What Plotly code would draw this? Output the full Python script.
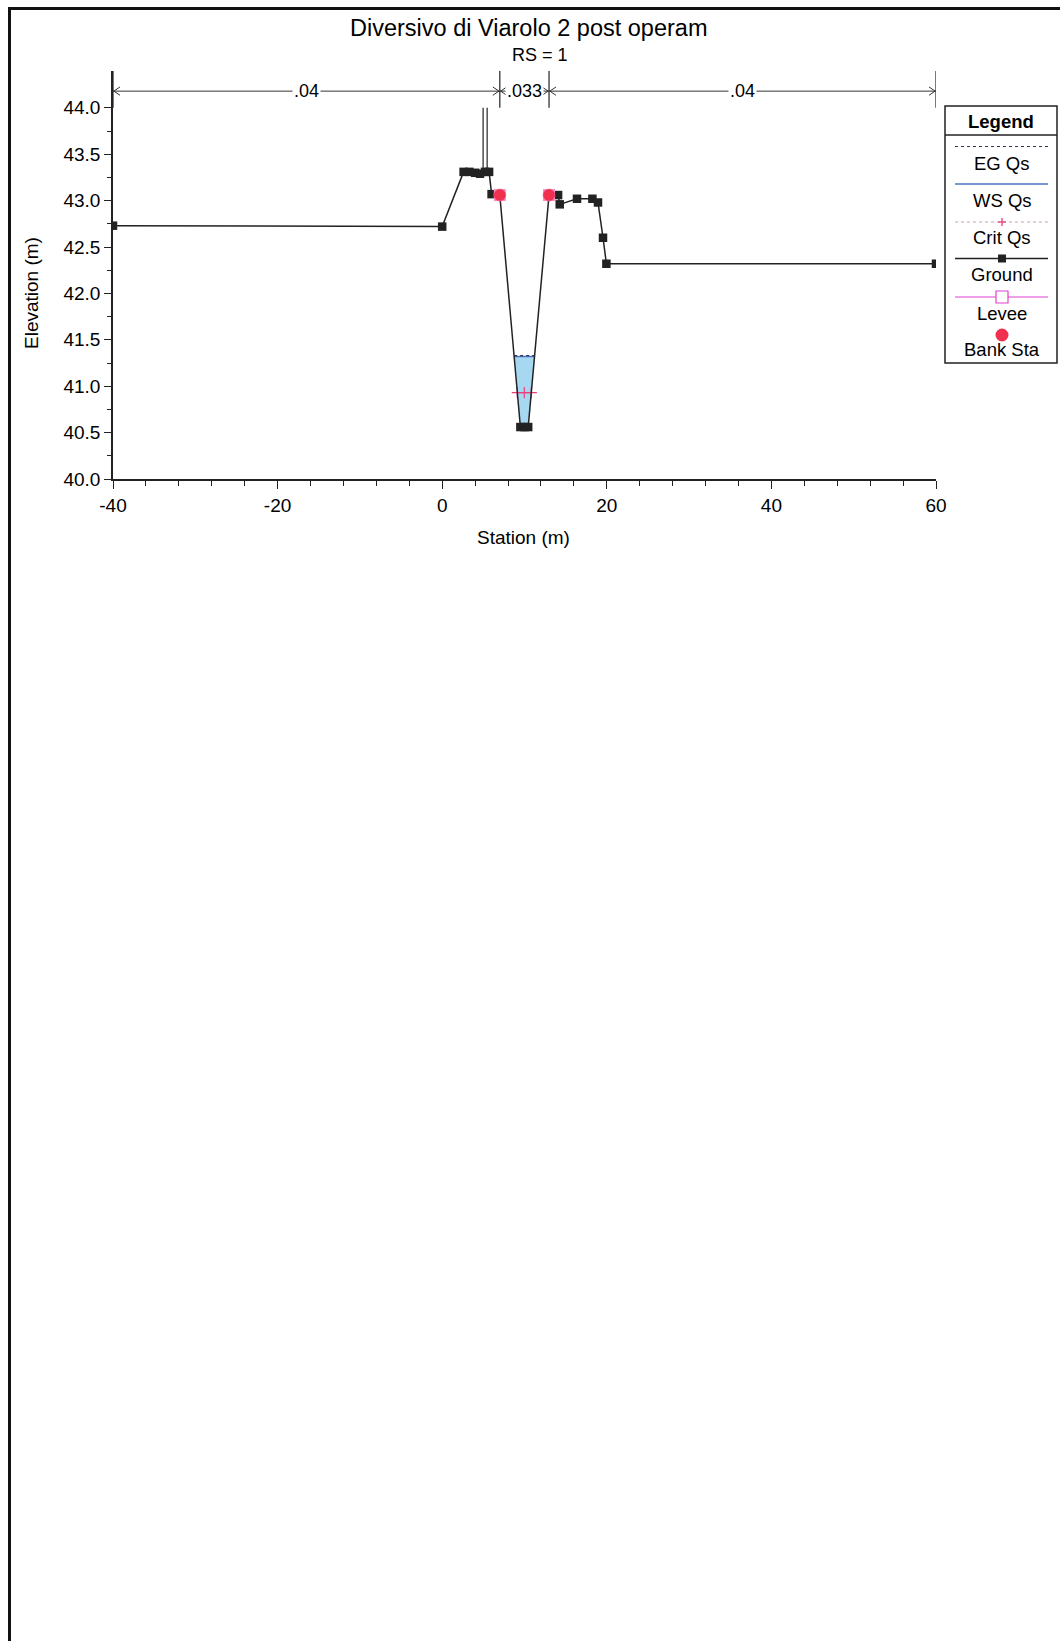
import numpy as np
import plotly.graph_objects as go

# ---------------- data ----------------
title_text = "Diversivo di Viarolo 2 post operam"
subtitle_text = "RS = 1"
x_title = "Station (m)"
y_title = "Elevation (m)"

ground_station = [-40.0, 0.0, 2.6, 3.3, 4.0, 4.6, 5.2, 5.7, 6.0, 7.0, 9.5, 10.0, 10.45,
                  12.98, 14.08, 14.28, 16.38, 18.25, 18.93, 19.54, 19.95, 60.0]
ground_elev = [42.73, 42.72, 43.31, 43.31, 43.30, 43.29, 43.31, 43.31, 43.07, 43.06, 40.56, 40.56, 40.56,
               43.06, 43.06, 42.96, 43.02, 43.02, 42.98, 42.60, 42.32, 42.32]
bank_station = [7.0, 12.98]
bank_elev = [43.06, 43.06]
ws_elev = 41.32
eg_elev = 41.33
crit_elev = 40.93
levee_station = [4.97, 5.46]
levee_top = 44.0

n_bounds = [-40.0, 7.0, 12.98, 60.0]
n_labels = [".04", ".033", ".04"]
n_label_station = [-16.5, 9.99, 36.5]
dim_elev = 44.18

x_range = [-40, 60]
y_range = [40.0, 44.397]
x_tickvals = [-40, -20, 0, 20, 40, 60]
x_ticktext = ["-40", "-20", "0", "20", "40", "60"]
y_tickvals = [40.0, 40.5, 41.0, 41.5, 42.0, 42.5, 43.0, 43.5, 44.0]
y_ticktext = ["40.0", "40.5", "41.0", "41.5", "42.0", "42.5", "43.0", "43.5", "44.0"]
y_minorvals = [40.25, 40.75, 41.25, 41.75, 42.25, 42.75, 43.25, 43.75]

legend_labels = ["EG Qs", "WS Qs", "Crit Qs", "Ground", "Levee", "Bank Sta"]

# ---------------- styles ----------------
FONT = "Liberation Sans, Arial, sans-serif"
C_GROUND = "#222222"
C_WS = "#4a74c0"
C_EG = "#333355"
C_CRIT = "#e8407a"
C_LEVEE = "#e040d0"
C_BANK = "#f0304f"
C_WATER = "#a6d8f2"

W_FIG, H_FIG = 1060, 1641
P_LEFT, P_TOP, PW, PH = 113, 71, 823, 408      # plot area in page pixels
P_BOTTOM = P_TOP + PH
ML = P_LEFT
MT = P_TOP
MR = W_FIG - ML - PW
MB = H_FIG - MT - PH


def xp(px):
    return (px - P_LEFT) / PW


def yp(py):
    return (P_BOTTOM - py) / PH


gx = np.array(ground_station)
gy = np.array(ground_elev)
i_left = int(np.where(np.isclose(gx, bank_station[0]))[0][0])
i_right = int(np.where(np.isclose(gx, bank_station[1]))[0][0])


def crossings(level):
    """Wetted polygon points within the main channel for a given level."""
    pts = []
    for i in range(i_left, i_right):
        x0, y0, x1, y1 = gx[i], gy[i], gx[i + 1], gy[i + 1]
        if y0 < level:
            pts.append((x0, y0))
        if (y0 - level) * (y1 - level) < 0:
            t = (level - y0) / (y1 - y0)
            pts.append((x0 + t * (x1 - x0), level))
    return pts


wet = crossings(ws_elev)
wet_x = [p[0] for p in wet] + [wet[0][0]]
wet_y = [p[1] for p in wet] + [wet[0][1]]
ws_left, ws_right = wet[0][0], wet[-1][0]

crit_pts = [p for p in crossings(crit_elev) if np.isclose(p[1], crit_elev)]
crit_left, crit_right = crit_pts[0][0], crit_pts[-1][0]

fig = go.Figure()

fig.add_trace(go.Scatter(x=wet_x, y=wet_y, fill="toself", fillcolor=C_WATER,
                         line=dict(width=0), mode="lines", hoverinfo="skip", showlegend=False))
fig.add_trace(go.Scatter(x=[crit_left, (crit_left + crit_right) / 2, crit_right],
                         y=[crit_elev] * 3, mode="lines+markers",
                         line=dict(color=C_CRIT, width=1, dash="dot"),
                         marker=dict(symbol="cross-thin", size=8, line=dict(color=C_CRIT, width=1.2)),
                         showlegend=False))
fig.add_trace(go.Scatter(x=[ws_left, ws_right], y=[ws_elev] * 2, mode="lines",
                         line=dict(color=C_WS, width=1.5), showlegend=False))
fig.add_trace(go.Scatter(x=[ws_left, ws_right], y=[eg_elev] * 2, mode="lines",
                         line=dict(color=C_EG, width=1.2, dash="dot"), showlegend=False))

lev_x, lev_y = [], []
for s in levee_station:
    lev_x += [s, s, None]
    lev_y += [float(np.interp(s, gx, gy)), levee_top, None]
fig.add_trace(go.Scatter(x=lev_x, y=lev_y, mode="lines", line=dict(color=C_GROUND, width=1.2),
                         showlegend=False))

fig.add_trace(go.Scatter(x=ground_station, y=ground_elev, mode="lines+markers",
                         line=dict(color=C_GROUND, width=1.5),
                         marker=dict(symbol="square", size=8.5, color=C_GROUND),
                         showlegend=False))
fig.add_trace(go.Scatter(x=bank_station, y=bank_elev, mode="markers",
                         marker=dict(symbol="square", size=12, color="#f490c8"),
                         showlegend=False))
fig.add_trace(go.Scatter(x=bank_station, y=bank_elev, mode="markers",
                         marker=dict(symbol="circle", size=12, color=C_BANK,
                                     line=dict(color="#f06090", width=0.5)),
                         showlegend=False))

# Manning n dimension lines
dx = 0.85
dy = 0.045
dim_x, dim_y = [], []
chev_x, chev_y = [], []
vert_x, vert_y = [], []
for a, b in zip(n_bounds[:-1], n_bounds[1:]):
    dim_x += [a, b, None]
    dim_y += [dim_elev, dim_elev, None]
    chev_x += [a + dx, a + 0.1, a + dx, None, b - dx, b - 0.1, b - dx, None]
    chev_y += [dim_elev + dy, dim_elev, dim_elev - dy, None, dim_elev + dy, dim_elev, dim_elev - dy, None]
for s in n_bounds:
    vert_x += [s, s, None]
    vert_y += [levee_top, y_range[1], None]
fig.add_trace(go.Scatter(x=dim_x, y=dim_y, mode="lines", line=dict(color="#333333", width=1),
                         showlegend=False))
fig.add_trace(go.Scatter(x=chev_x, y=chev_y, mode="lines", line=dict(color="#333333", width=1),
                         showlegend=False))
fig.add_trace(go.Scatter(x=vert_x, y=vert_y, mode="lines", line=dict(color="#222222", width=1.2),
                         showlegend=False, cliponaxis=False))

annotations = []
for lab, s in zip(n_labels, n_label_station):
    annotations.append(dict(x=s, y=dim_elev, xref="x", yref="y", text=lab, showarrow=False,
                            font=dict(family=FONT, size=18, color="black"), bgcolor="white",
                            borderpad=1, xanchor="center", yanchor="middle"))

annotations.append(dict(x=xp(528), y=yp(28), xref="paper", yref="paper", text=title_text,
                        showarrow=False, font=dict(family=FONT, size=23.5, color="black"),
                        xanchor="center", yanchor="middle"))
annotations.append(dict(x=xp(540), y=yp(55.5), xref="paper", yref="paper", text=subtitle_text,
                        showarrow=False, font=dict(family=FONT, size=18, color="black"),
                        xanchor="center", yanchor="middle"))
annotations.append(dict(x=xp(523), y=yp(537), xref="paper", yref="paper", text=x_title,
                        showarrow=False, font=dict(family=FONT, size=19, color="black"),
                        xanchor="center", yanchor="middle"))
annotations.append(dict(x=xp(31), y=yp(293), xref="paper", yref="paper", text=y_title,
                        showarrow=False, textangle=-90, font=dict(family=FONT, size=19, color="black"),
                        xanchor="center", yanchor="middle"))

shapes = []
shapes.append(dict(type="line", xref="paper", yref="paper", x0=xp(9.5), x1=xp(9.5), y0=yp(7), y1=yp(1641),
                   line=dict(color="#111111", width=3)))
shapes.append(dict(type="line", xref="paper", yref="paper", x0=xp(8), x1=xp(1060), y0=yp(8.5), y1=yp(8.5),
                   line=dict(color="#111111", width=3)))

# legend box
LX0, LX1, LY0, LY1 = 945, 1057, 106, 363
shapes.append(dict(type="rect", xref="paper", yref="paper", x0=xp(LX0), x1=xp(LX1), y0=yp(LY0), y1=yp(LY1),
                   line=dict(color="#222222", width=1.5), fillcolor="white", layer="above"))
shapes.append(dict(type="line", xref="paper", yref="paper", x0=xp(LX0), x1=xp(LX1), y0=yp(135), y1=yp(135),
                   line=dict(color="#222222", width=1.5)))
annotations.append(dict(x=xp((LX0 + LX1) / 2), y=yp(121), xref="paper", yref="paper", text="<b>Legend</b>",
                        showarrow=False, font=dict(family=FONT, size=18.5, color="black"),
                        xanchor="center", yanchor="middle"))
cx = (LX0 + LX1) / 2 + 1
sx0, sx1 = 955, 1048
line_rows = [146.5, 184, 222, 258.5, 297, 335]
text_rows = [163, 200, 237.5, 274, 313, 349.5]
sample_styles = [
    dict(color=C_EG, width=1.2, dash="dot"),
    dict(color=C_WS, width=1.5),
    dict(color="#c8a0b0", width=1, dash="dot"),
    dict(color=C_GROUND, width=1.5),
    dict(color=C_LEVEE, width=1),
    None,
]
for lab, ly, ty, st in zip(legend_labels, line_rows, text_rows, sample_styles):
    if st is not None:
        shapes.append(dict(type="line", xref="paper", yref="paper", x0=xp(sx0), x1=xp(sx1), y0=yp(ly), y1=yp(ly),
                           line=st, layer="above"))
    annotations.append(dict(x=xp(cx), y=yp(ty), xref="paper", yref="paper", text=lab, showarrow=False,
                            font=dict(family=FONT, size=18.5, color="black"), xanchor="center", yanchor="middle"))
shapes.append(dict(type="line", xref="paper", yref="paper", x0=xp(cx - 4), x1=xp(cx + 4),
                   y0=yp(line_rows[2]), y1=yp(line_rows[2]), line=dict(color=C_CRIT, width=1.3), layer="above"))
shapes.append(dict(type="line", xref="paper", yref="paper", x0=xp(cx), x1=xp(cx),
                   y0=yp(line_rows[2] - 4), y1=yp(line_rows[2] + 4), line=dict(color=C_CRIT, width=1.3), layer="above"))
shapes.append(dict(type="rect", xref="paper", yref="paper", x0=xp(cx - 4), x1=xp(cx + 4),
                   y0=yp(line_rows[3] - 4), y1=yp(line_rows[3] + 4), line=dict(color=C_GROUND, width=0),
                   fillcolor=C_GROUND, layer="above"))
shapes.append(dict(type="rect", xref="paper", yref="paper", x0=xp(cx - 6), x1=xp(cx + 6),
                   y0=yp(line_rows[4] - 6), y1=yp(line_rows[4] + 6), line=dict(color=C_LEVEE, width=1.2),
                   fillcolor="white", layer="above"))
shapes.append(dict(type="circle", xref="paper", yref="paper", x0=xp(cx - 6.5), x1=xp(cx + 6.5),
                   y0=yp(line_rows[5] - 6.5), y1=yp(line_rows[5] + 6.5), line=dict(color=C_BANK, width=0),
                   fillcolor=C_BANK, layer="above"))

fig.update_layout(
    width=W_FIG, height=H_FIG,
    margin=dict(l=ML, r=MR, t=MT, b=MB, pad=0),
    paper_bgcolor="white", plot_bgcolor="white",
    showlegend=False,
    annotations=annotations,
    shapes=shapes,
    font=dict(family=FONT, size=19, color="black"),
)
fig.update_xaxes(range=x_range, tickvals=x_tickvals, ticktext=x_ticktext, ticks="outside", ticklen=8,
                 tickwidth=1.2, tickcolor="#222222", showline=True, linecolor="#222222", linewidth=1.5,
                 showgrid=False, zeroline=False, tickfont=dict(family=FONT, size=19, color="black"),
                 minor=dict(dtick=4, ticks="outside", ticklen=5, tickcolor="#222222", showgrid=False))
fig.update_yaxes(range=y_range, tickvals=y_tickvals, ticktext=y_ticktext, ticks="outside", ticklen=7,
                 tickwidth=1.2, tickcolor="#222222", showline=True, linecolor="#222222", linewidth=1.5,
                 showgrid=False, zeroline=False, tickfont=dict(family=FONT, size=19, color="black"),
                 minor=dict(tickvals=y_minorvals, ticks="outside", ticklen=4, tickcolor="#222222", showgrid=False))

fig.write_html("out.html", config={"displayModeBar": False},
               post_script="document.body.style.margin='0';document.body.style.overflow='hidden';")
